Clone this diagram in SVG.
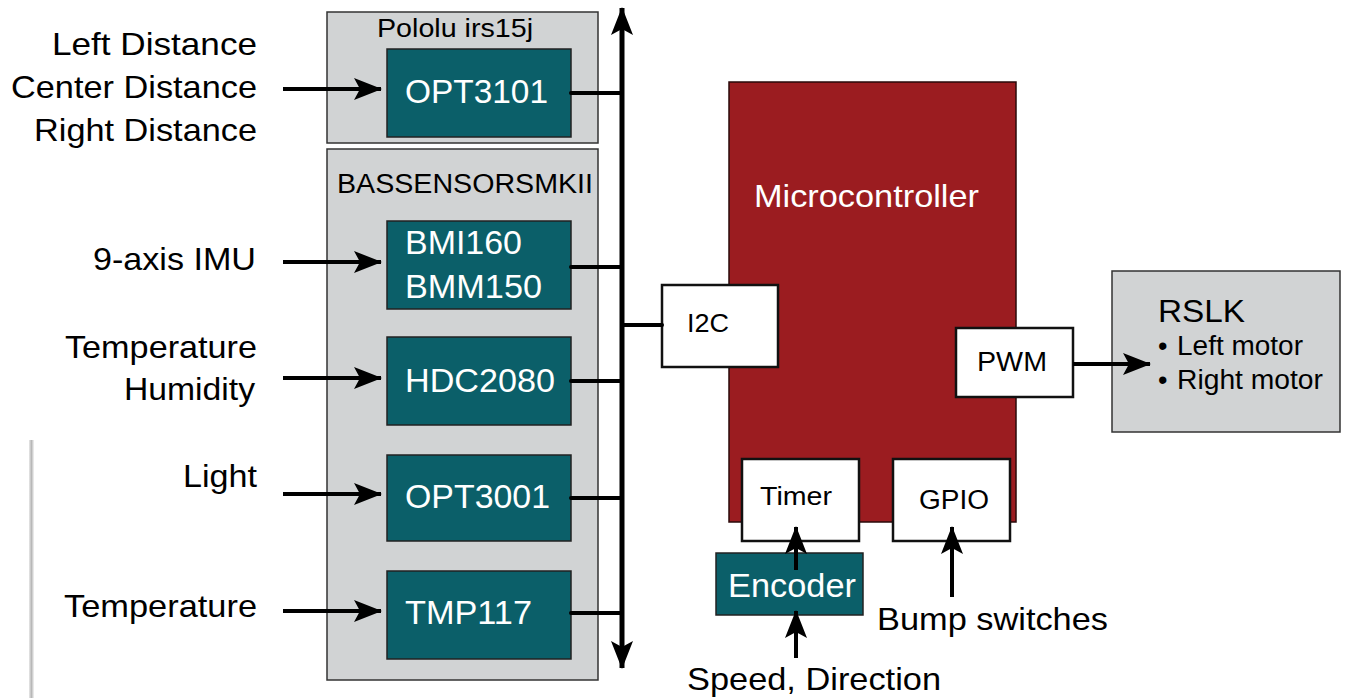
<svg xmlns="http://www.w3.org/2000/svg" width="1364" height="698" viewBox="0 0 1364 698">
<defs>
<marker id="ah" markerUnits="userSpaceOnUse" markerWidth="30" markerHeight="24" refX="27" refY="11" orient="auto-start-reverse" viewBox="0 0 30 24">
<path d="M0,0 L28,11 L0,22 L6,11 Z" fill="#000"/>
</marker>
<linearGradient id="sh" x1="0" x2="1" y1="0" y2="0">
<stop offset="0" stop-color="#e8e8e8"/>
<stop offset="0.5" stop-color="#b8b8b8"/>
<stop offset="1" stop-color="#f4f4f4"/>
</linearGradient>
</defs>
<style>
text{font-family:"Liberation Sans",Arial,sans-serif;fill:#000}
.lbl{font-size:32px;text-anchor:end}
.big{font-size:32px}
.mod{fill:#0b5f69;stroke:#222;stroke-width:1.5}
.modt{font-size:33px;fill:#fff}
.grp{fill:#d1d3d4;stroke:#333;stroke-width:1.5}
.wbox{fill:#fff;stroke:#111;stroke-width:2.5}
.sm{font-size:27px}
.ln{stroke:#000;stroke-width:4;fill:none;stroke-linecap:round}
.arr{stroke:#000;stroke-width:4;fill:none;marker-end:url(#ah)}
</style>
<rect width="1364" height="698" fill="#fff"/>
<rect x="29" y="440" width="5" height="258" fill="url(#sh)"/>

<g id="labels">
<text class="lbl" x="257" y="55" textLength="205" lengthAdjust="spacingAndGlyphs">Left Distance</text>
<text class="lbl" x="257" y="98" textLength="246" lengthAdjust="spacingAndGlyphs">Center Distance</text>
<text class="lbl" x="257" y="141" textLength="223" lengthAdjust="spacingAndGlyphs">Right Distance</text>
<text class="lbl" x="256" y="270" textLength="163" lengthAdjust="spacingAndGlyphs">9-axis IMU</text>
<text class="lbl" x="257" y="358" textLength="192" lengthAdjust="spacingAndGlyphs">Temperature</text>
<text class="lbl" x="255" y="400" textLength="131" lengthAdjust="spacingAndGlyphs">Humidity</text>
<text class="lbl" x="257" y="487" textLength="74" lengthAdjust="spacingAndGlyphs">Light</text>
<text class="lbl" x="257" y="617" textLength="193" lengthAdjust="spacingAndGlyphs">Temperature</text>
</g>

<g id="pololu">
<rect class="grp" x="327" y="12" width="271" height="131"/>
<text x="377" y="37" font-size="26" textLength="156" lengthAdjust="spacingAndGlyphs">Pololu irs15j</text>
</g>
<g id="bassensors">
<rect class="grp" x="327" y="149" width="271" height="531"/>
<text class="sm" x="337" y="193" textLength="256" lengthAdjust="spacingAndGlyphs">BASSENSORSMKII</text>
</g>

<g id="opt3101">
<rect class="mod" x="387" y="49" width="184" height="88"/>
<text class="modt" x="405" y="103" textLength="143" lengthAdjust="spacingAndGlyphs">OPT3101</text>
</g>
<g id="bmi160">
<rect class="mod" x="387" y="221" width="184" height="88"/>
<text class="modt" x="405" y="254" textLength="117" lengthAdjust="spacingAndGlyphs">BMI160</text>
<text class="modt" x="405" y="298" textLength="137" lengthAdjust="spacingAndGlyphs">BMM150</text>
</g>
<g id="hdc2080">
<rect class="mod" x="387" y="337" width="184" height="88"/>
<text class="modt" x="405" y="392" textLength="150" lengthAdjust="spacingAndGlyphs">HDC2080</text>
</g>
<g id="opt3001">
<rect class="mod" x="387" y="455" width="184" height="86"/>
<text class="modt" x="405" y="508" textLength="145" lengthAdjust="spacingAndGlyphs">OPT3001</text>
</g>
<g id="tmp117">
<rect class="mod" x="387" y="571" width="184" height="88"/>
<text class="modt" x="405" y="624" textLength="127" lengthAdjust="spacingAndGlyphs">TMP117</text>
</g>

<g id="microcontroller">
<rect x="729" y="82" width="287" height="440" fill="#9b1c20" stroke="#2a0a0a" stroke-width="1.5"/>
<text x="754" y="207" font-size="32" style="fill:#fff" textLength="225" lengthAdjust="spacingAndGlyphs">Microcontroller</text>
</g>
<g id="i2c">
<rect class="wbox" x="662" y="285" width="116" height="82"/>
<text x="687" y="332" font-size="26" textLength="42" lengthAdjust="spacingAndGlyphs">I2C</text>
</g>
<g id="pwm">
<rect class="wbox" x="956" y="328" width="117" height="69"/>
<text x="977" y="371" font-size="27" textLength="70" lengthAdjust="spacingAndGlyphs">PWM</text>
</g>
<g id="timer">
<rect class="wbox" x="742" y="459" width="117" height="82"/>
<text x="760" y="505" font-size="26" textLength="72" lengthAdjust="spacingAndGlyphs">Timer</text>
</g>
<g id="gpio">
<rect class="wbox" x="893" y="459" width="117" height="82"/>
<text x="919" y="509" font-size="27" textLength="70" lengthAdjust="spacingAndGlyphs">GPIO</text>
</g>
<g id="encoder">
<rect class="mod" x="716" y="553" width="147" height="62"/>
<text class="modt" x="728" y="597" font-size="32" textLength="128" lengthAdjust="spacingAndGlyphs">Encoder</text>
</g>
<g id="rslk">
<rect class="grp" x="1112" y="271" width="228" height="161"/>
<text x="1158" y="322" font-size="32" textLength="87" lengthAdjust="spacingAndGlyphs">RSLK</text>
<text x="1158" y="355" font-size="27">•</text>
<text x="1177" y="355" font-size="27" textLength="126" lengthAdjust="spacingAndGlyphs">Left motor</text>
<text x="1158" y="389" font-size="27">•</text>
<text x="1177" y="389" font-size="27" textLength="146" lengthAdjust="spacingAndGlyphs">Right motor</text>
</g>

<g id="ext-labels">
<text class="big" x="687" y="690" font-size="33" textLength="254" lengthAdjust="spacingAndGlyphs">Speed, Direction</text>
<text class="big" x="877" y="630" font-size="33" textLength="231" lengthAdjust="spacingAndGlyphs">Bump switches</text>
</g>

<g id="connectors">
<line x1="622" y1="8" x2="622" y2="668" stroke="#000" stroke-width="5" marker-start="url(#ah)" marker-end="url(#ah)"/>
<line class="arr" x1="283" y1="89" x2="381" y2="89"/>
<line class="arr" x1="283" y1="262" x2="381" y2="262"/>
<line class="arr" x1="283" y1="378" x2="381" y2="378"/>
<line class="arr" x1="283" y1="494" x2="381" y2="494"/>
<line class="arr" x1="283" y1="611" x2="381" y2="611"/>
<line class="ln" x1="571" y1="93" x2="622" y2="93"/>
<line class="ln" x1="571" y1="267" x2="622" y2="267"/>
<line class="ln" x1="571" y1="381" x2="622" y2="381"/>
<line class="ln" x1="571" y1="498" x2="622" y2="498"/>
<line class="ln" x1="571" y1="613" x2="622" y2="613"/>
<line class="ln" x1="622" y1="325" x2="662" y2="325" stroke-width="3"/>
<line class="arr" x1="1073" y1="364" x2="1150" y2="364"/>
<line class="arr" x1="796" y1="570" x2="796" y2="527"/>
<line class="arr" x1="796" y1="658" x2="796" y2="611"/>
<line class="arr" x1="952" y1="597" x2="952" y2="527"/>
</g>
</svg>
